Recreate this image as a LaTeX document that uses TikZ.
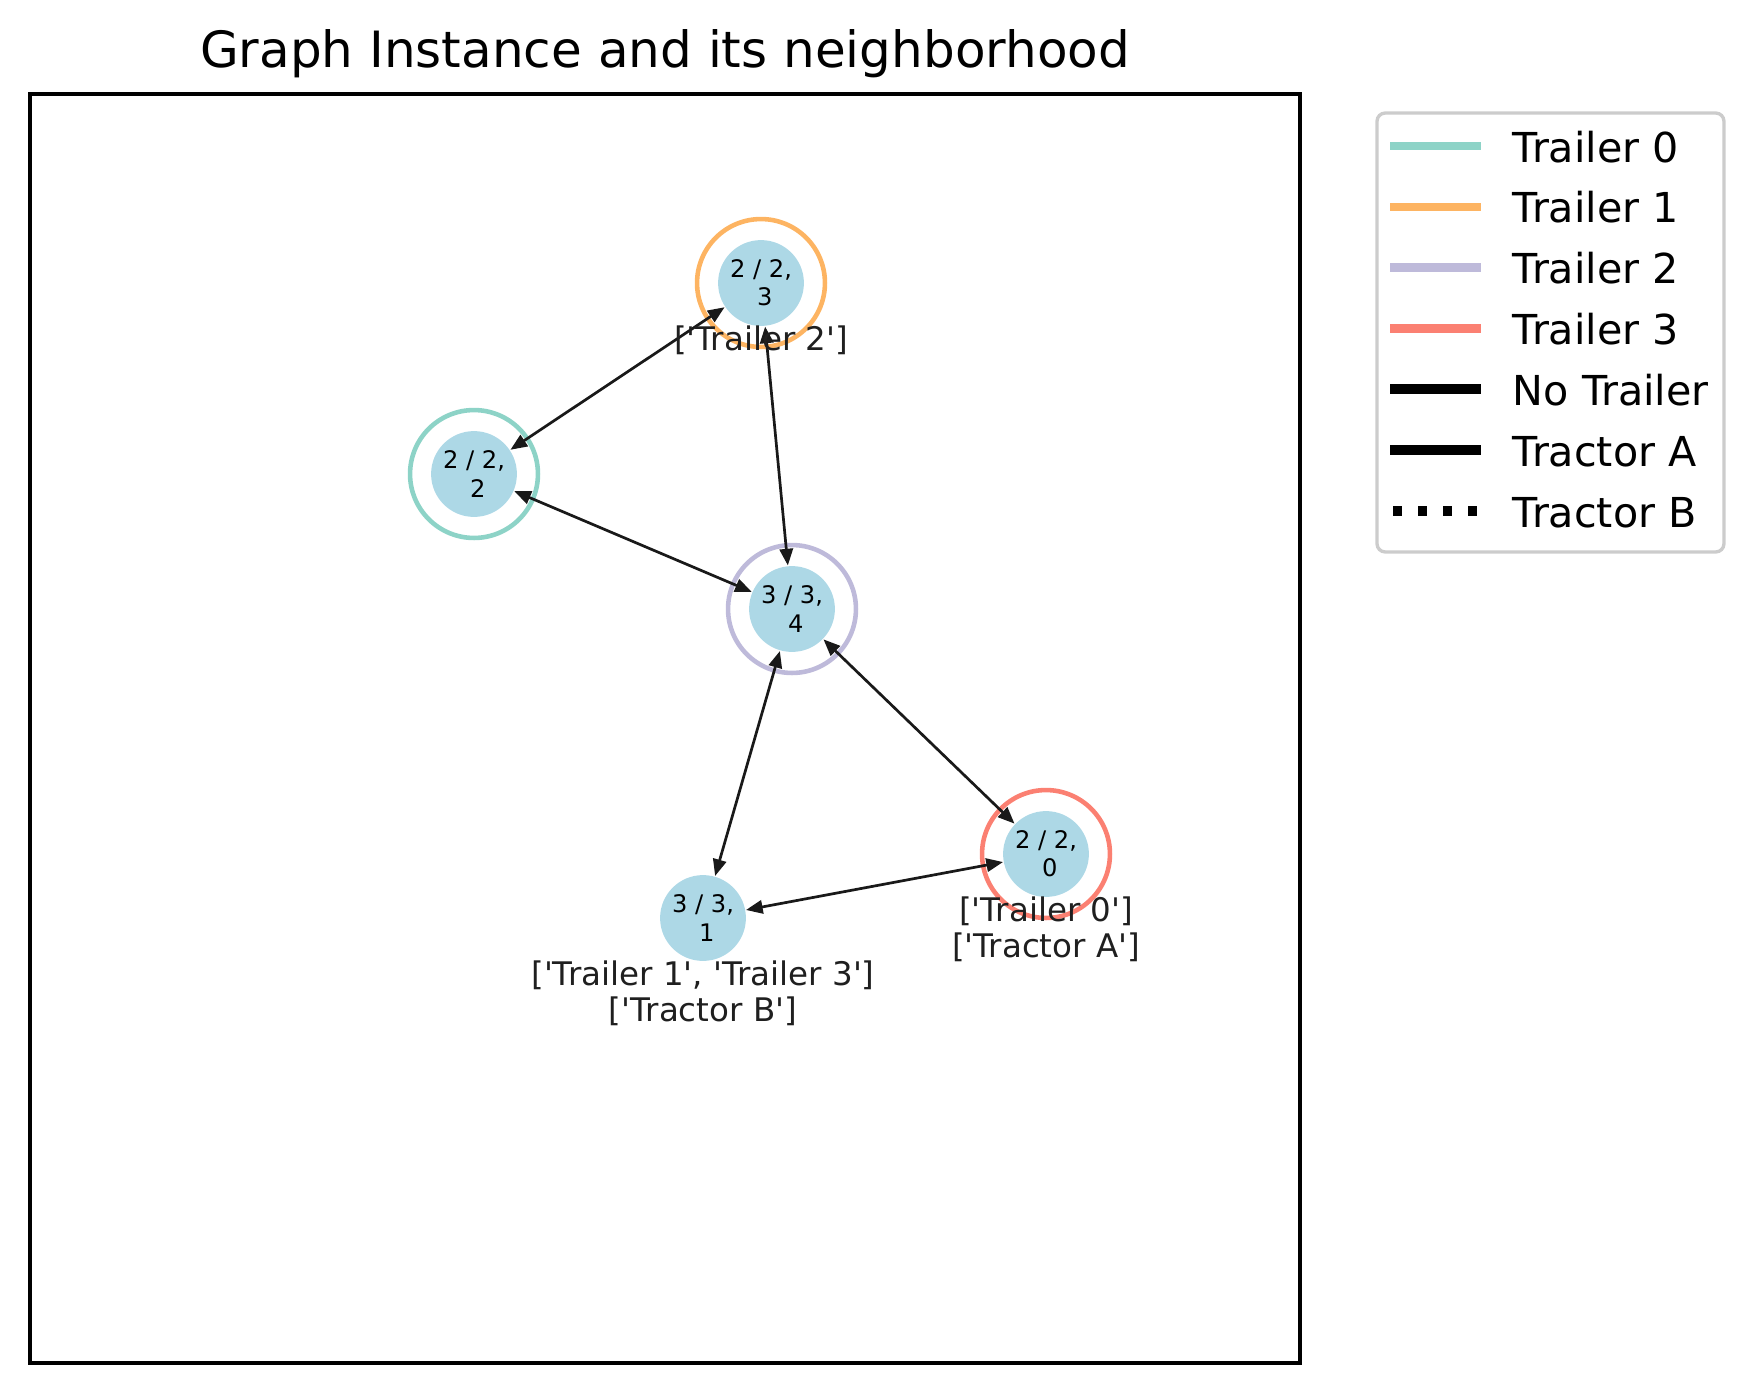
\documentclass[tikz,border=0pt]{standalone}
\usepackage{fontspec}
\newfontfamily\plotfont{DejaVu Sans}
\usepackage{tikz}
\usetikzlibrary{arrows.meta,positioning}
\definecolor{trailer0}{HTML}{8DD3C7}
\definecolor{trailer1}{HTML}{FDB462}
\definecolor{trailer2}{HTML}{BEBADA}
\definecolor{trailer3}{HTML}{FB8072}
\definecolor{nodeblue}{HTML}{ADD8E6}

\begin{document}
\plotfont
\begin{tikzpicture}[x=0.24pt,y=-0.24pt,
  hub/.style={circle, fill=nodeblue, minimum size=20.6pt, inner sep=0pt,
    align=center, font=\fontsize{5.8}{6.8}\selectfont},
  ring/.style={circle, draw=#1, line width=1.1pt, minimum size=30.7pt, inner sep=0pt},
  tag/.style={font=\fontsize{7.8}{8.7}\selectfont, align=center, text=black!88, inner sep=0pt},
  link/.style={{Triangle[length=4pt,width=3.2pt]}-{Triangle[length=4pt,width=3.2pt]},
    line width=0.65pt, black!90},
  key/.style={line width=2pt},
  keytext/.style={anchor=base west, font=\fontsize{9.9}{12}\selectfont, inner sep=0pt}]
\useasboundingbox (0,0) rectangle (1754,1393);
% Title and axes frame
\node[font=\fontsize{12}{14}\selectfont, anchor=base] (title) at (665,67)
  {Graph Instance and its neighborhood};
\draw[line width=0.8pt] (30,94) rectangle (1300,1363);
% Nodes
\node[hub] (n3) at (761,283) {2 / 2,~\\~3};
\node[hub] (n2) at (474,474) {2 / 2,~\\~2};
\node[hub] (n4) at (792,609) {3 / 3,~\\~4};
\node[hub] (n0) at (1046,854) {2 / 2,~\\~0};
\node[hub] (n1) at (703,918) {3 / 3,~\\~1};
% Trailer rings
\node[ring=trailer1] (r3) at (n3) {};
\node[ring=trailer0] (r2) at (n2) {};
\node[ring=trailer2] (r4) at (n4) {};
\node[ring=trailer3] (r0) at (n0) {};
% Edges
\draw[link] (n3) -- (n2);
\draw[link] (n3) -- (n4);
\draw[link] (n2) -- (n4);
\draw[link] (n4) -- (n1);
\draw[link] (n4) -- (n0);
\draw[link] (n1) -- (n0);
% Labels under the nodes
\node[tag, below=-0.5pt of n3] (t3) {['Trailer 2']};
\node[tag, below=-0.5pt of n0] (t0) {['Trailer 0']\\{}['Tractor A']};
\node[tag, below=-0.5pt of n1] (t1) {['Trailer 1', 'Trailer 3']\\{}['Tractor B']};
% Legend
\draw[draw=black!20, line width=0.8pt, rounded corners=2pt, fill=white] (1377,113) rectangle (1724,552);
\foreach \c/\t [count=\i from 0] in {trailer0/Trailer 0, trailer1/Trailer 1,
    trailer2/Trailer 2, trailer3/Trailer 3} {
  \draw[key, \c] (1390,146+60.8*\i) -- (1481,146+60.8*\i);
  \node[keytext] at (1512,162+60.8*\i) {\t};
}
\draw[key, line width=2.4pt] (1390,389) -- (1481,389);
\node[keytext] at (1512,405) {No Trailer};
\draw[key, line width=2.4pt] (1390,450) -- (1481,450);
\node[keytext] at (1512,466) {Tractor A};
\draw[key, line width=2.4pt, dash pattern=on 2.2pt off 3.8pt] (1393,511) -- (1481,511);
\node[keytext] at (1512,527) {Tractor B};
\end{tikzpicture}
\end{document}
